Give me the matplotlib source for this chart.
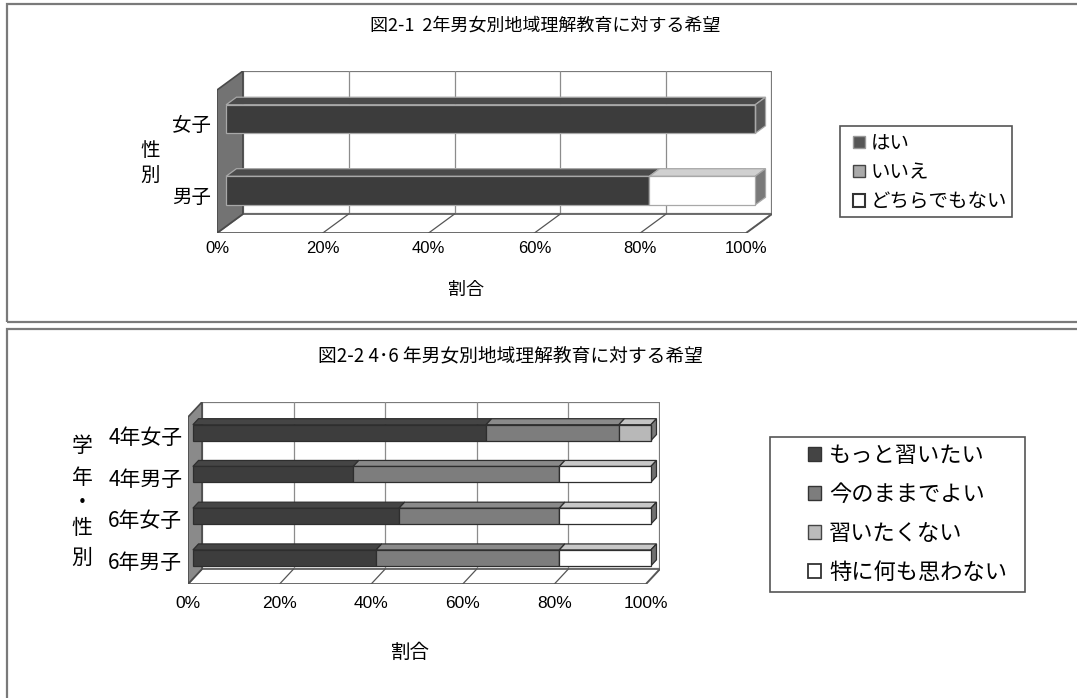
import matplotlib
matplotlib.use('Agg')
import matplotlib.pyplot as plt
from matplotlib.patches import Polygon, Patch, Rectangle
import numpy as np

plt.rcParams['font.family'] = ['Noto Sans CJK JP', 'DejaVu Sans']

W, H = 1077, 698

# --- data: figure 2-1 (bottom to top) ---
cats1 = ['男子', '女子']
series1 = ['はい', 'いいえ', 'どちらでもない']
hai = [80, 100]
iie = [0, 0]
dochira = [20, 0]

# --- data: figure 2-2 (bottom to top) ---
cats2 = ['6年男子', '6年女子', '4年男子', '4年女子']
series2 = ['もっと習いたい', '今のままでよい', '習いたくない', '特に何も思わない']
motto = [40, 45, 35, 64]
imano = [40, 35, 45, 29]
naraitaku = [0, 0, 0, 7]
tokuni = [20, 20, 20, 0]

xticks = [0, 20, 40, 60, 80, 100]
xticklabels = ['0%', '20%', '40%', '60%', '80%', '100%']


def px_axes(fig, left, right, bottom, top):
    # axes box given in pixel coords (origin top-left)
    return fig.add_axes([left / W, 1 - bottom / H, (right - left) / W, (bottom - top) / H])


def px_box(fig, left, top, right, bottom):
    fig.patches.append(Rectangle((left / W, 1 - bottom / H), (right - left) / W, (bottom - top) / H,
                                 transform=fig.transFigure, facecolor='none',
                                 edgecolor='#555555', lw=1.2))


def draw_3d_panel(ax, cats, values, faces, tops, sides, edge, wall, dx, dy,
                  f=0.35, depth=0.4, h=0.4, tick_fs=11, cat_fs=13, tick_pad=7):
    n = len(cats)
    y0, y1 = -0.5, n - 0.5
    ax.set_xlim(0, 100 + dx)
    ax.set_ylim(y0, y1 + dy)
    ax.axis('off')

    # back wall + gridlines
    ax.add_patch(Rectangle((dx, y0 + dy), 100, n, facecolor='white',
                           edgecolor='#7a7a7a', lw=1.6, zorder=0))
    for t in xticks[1:-1]:
        ax.plot([t + dx, t + dx], [y0 + dy, y1 + dy], color='#8c8c8c', lw=0.9, zorder=1)
    # floor
    ax.add_patch(Polygon([(0, y0), (100, y0), (100 + dx, y0 + dy), (dx, y0 + dy)],
                         closed=True, facecolor='white', edgecolor='#6a6a6a', lw=1.4, zorder=1))
    for t in xticks[1:]:
        ax.plot([t, t + dx], [y0, y0 + dy], color='#555555', lw=0.9, zorder=1)
    # side wall
    ax.add_patch(Polygon([(0, y0), (0, y1), (dx, y1 + dy), (dx, y0 + dy)], closed=True,
                         facecolor=wall, edgecolor='#4a4a4a', lw=1.2, zorder=2))

    # stacked 3D bars
    ypos = np.arange(n)
    lefts = np.zeros(n)
    b = f + depth
    for j, vals in enumerate(values):
        vals = np.array(vals, dtype=float)
        for i in range(n):
            if vals[i] <= 0:
                continue
            L, R = lefts[i], lefts[i] + vals[i]
            yt = ypos[i] + h / 2
            ax.add_patch(Polygon([(L + f * dx, yt + f * dy), (R + f * dx, yt + f * dy),
                                  (R + b * dx, yt + b * dy), (L + b * dx, yt + b * dy)],
                                 closed=True, facecolor=tops[j], edgecolor=edge, lw=0.9, zorder=4))
            if R >= 99.9:
                yb = ypos[i] - h / 2
                ax.add_patch(Polygon([(R + f * dx, yb + f * dy), (R + b * dx, yb + b * dy),
                                      (R + b * dx, yt + b * dy), (R + f * dx, yt + f * dy)],
                                     closed=True, facecolor=sides[j], edgecolor=edge, lw=0.9, zorder=4))
        ax.barh(ypos + f * dy, vals, left=lefts + f * dx, height=h, color=faces[j],
                edgecolor=edge, lw=0.9, zorder=5)
        lefts = lefts + vals

    # tick labels
    for t, lab in zip(xticks, xticklabels):
        ax.annotate(lab, (t, y0), xytext=(0, -tick_pad), textcoords='offset points',
                    ha='center', va='top', fontsize=tick_fs, family=['Liberation Sans'])
    for i, c in enumerate(cats):
        ax.annotate(c, (0, i), xytext=(-4, 0), textcoords='offset points',
                    ha='right', va='center', fontsize=cat_fs)


fig = plt.figure(figsize=(W / 100, H / 100), dpi=100)

# panel frames
fig.patches.append(Rectangle((7 / W, 1 - 322 / H), 1.2, (322 - 4) / H, transform=fig.transFigure,
                             facecolor='none', edgecolor='#7a7a7a', lw=1.6))
fig.patches.append(Rectangle((7 / W, -0.1), 1.2, 0.1 + (698 - 329) / H, transform=fig.transFigure,
                             facecolor='none', edgecolor='#7a7a7a', lw=1.6))

# ---------------- figure 2-1 ----------------
ax1 = px_axes(fig, 217, 772, 233, 71)
draw_3d_panel(ax1, cats1, [hai, iie, dochira],
              faces=['#3c3c3c', '#808080', 'white'],
              tops=['#4a4a4a', '#8c8c8c', '#d0d0d0'],
              sides=['#5a5a5a', '#6a6a6a', '#7a7a7a'],
              edge='#a8a8a8', wall='#737373', dx=4.9, dy=0.266,
              tick_fs=12, cat_fs=14, tick_pad=6)
fig.text(545 / W, 1 - 26 / H, '図2-1  2年男女別地域理解教育に対する希望', ha='center', va='center', fontsize=13)
fig.text(466 / W, 1 - 290 / H, '割合', ha='center', va='center', fontsize=13)
for ch, yy in zip('性別', [150, 175]):
    fig.text(150 / W, 1 - yy / H, ch, ha='center', va='center', fontsize=14)

h1 = [Patch(facecolor='#555555', edgecolor='#999999'),
      Patch(facecolor='#aaaaaa', edgecolor='#444444'),
      Patch(facecolor='white', edgecolor='#333333', lw=1.5)]
px_box(fig, 840, 126, 1012, 217)
fig.legend(h1, series1, loc='upper left', bbox_to_anchor=(853 / W, 1 - 133 / H),
           frameon=False, fontsize=14,
           handlelength=0.6, handleheight=0.6, handletextpad=0.3,
           labelspacing=0.42, borderpad=0, borderaxespad=0)

# ---------------- figure 2-2 ----------------
ax2 = px_axes(fig, 188, 660, 584, 402)
draw_3d_panel(ax2, cats2, [motto, imano, naraitaku, tokuni],
              faces=['#3d3d3d', '#7d7d7d', '#b8b8b8', 'white'],
              tops=['#454545', '#8a8a8a', '#c4c4c4', '#c8c8c8'],
              sides=['#4a4a4a', '#606060', '#7a7a7a', '#707070'],
              edge='#2e2e2e', wall='#8a8a8a', dx=3.06, dy=0.36, h=0.38,
              tick_fs=12.5, cat_fs=15, tick_pad=9)
fig.text(510 / W, 1 - 356 / H, '図2-2 4･6 年男女別地域理解教育に対する希望', ha='center', va='center', fontsize=13.5)
fig.text(410 / W, 1 - 652 / H, '割合', ha='center', va='center', fontsize=14)
for ch, yy in zip('学年・性別', [446, 478, 503, 528, 558]):
    fig.text(82 / W, 1 - yy / H, ch, ha='center', va='center', fontsize=15)

h2 = [Patch(facecolor='#444444', edgecolor='#333333'),
      Patch(facecolor='#7d7d7d', edgecolor='#333333'),
      Patch(facecolor='#bbbbbb', edgecolor='#444444'),
      Patch(facecolor='white', edgecolor='#333333', lw=1.3)]
px_box(fig, 770, 437, 1025, 592)
fig.legend(h2, series2, loc='upper left', bbox_to_anchor=(808 / W, 1 - 444 / H),
           frameon=False, fontsize=16,
           handlelength=0.6, handleheight=0.6, handletextpad=0.35,
           labelspacing=0.72, borderpad=0, borderaxespad=0)

fig.savefig('out.png', dpi=100)
